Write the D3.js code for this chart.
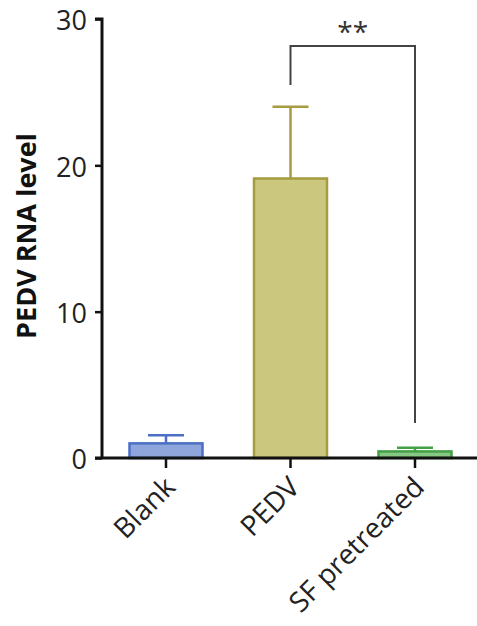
<!DOCTYPE html>
<html>
<head>
<meta charset="utf-8">
<script src="https://cdn.jsdelivr.net/npm/d3@7"></script>
<style>
  body { margin: 0; background: #fff; }
  svg { display: block; }
</style>
</head>
<body>
<svg id="chart" width="477" height="626"></svg>
<script>
// chart data
const groups = ["Blank", "PEDV", "SF pretreated"];
const means = [1.0, 19.1, 0.45];
const errors = [0.55, 4.9, 0.25];
const fills = ["#8fa6dc", "#cbc77e", "#86c883"];
const strokes = ["#4b6fc4", "#a59c40", "#42a046"];
const yTicks = [0, 10, 20, 30];
const sigLabel = "**";

const svg = d3.select("#chart");
const margin = { top: 19, left: 102 };
const font = "'Open Sans', sans-serif";

const x = d3.scalePoint().domain(groups).range([166, 415]);
const y = d3.scaleLinear().domain([0, 30]).range([458, margin.top]);
const barW = 73;

// bars
svg.selectAll(".bar")
  .data(groups)
  .enter()
  .append("rect")
  .attr("x", d => x(d) - barW / 2)
  .attr("y", (d, i) => y(means[i]))
  .attr("width", barW)
  .attr("height", (d, i) => y(0) - y(means[i]))
  .attr("fill", (d, i) => fills[i])
  .attr("stroke", (d, i) => strokes[i])
  .attr("stroke-width", 2.5);

// error bars (up only)
const capW = 36;
groups.forEach((g, i) => {
  svg.append("line")
    .attr("x1", x(g)).attr("x2", x(g))
    .attr("y1", y(means[i])).attr("y2", y(means[i] + errors[i]))
    .attr("stroke", strokes[i]).attr("stroke-width", 2.5);
  svg.append("line")
    .attr("x1", x(g) - capW / 2).attr("x2", x(g) + capW / 2)
    .attr("y1", y(means[i] + errors[i])).attr("y2", y(means[i] + errors[i]))
    .attr("stroke", strokes[i]).attr("stroke-width", 2.5);
});

// y axis
const yAxis = svg.append("g")
  .attr("transform", `translate(${margin.left},0)`)
  .call(d3.axisLeft(y).tickValues(yTicks).tickSize(7).tickPadding(8));
yAxis.select(".domain").attr("stroke", "#111").attr("stroke-width", 3)
  .attr("d", `M-7,${y(30)}H0V${y(0)}`);
yAxis.selectAll(".tick line").attr("stroke", "#111").attr("stroke-width", 2.5);
yAxis.selectAll(".tick text")
  .attr("fill", "#222")
  .attr("dy", "0.4em")
  .style("font-family", font)
  .style("font-size", "27px");

// x axis line
svg.append("line")
  .attr("x1", margin.left - 7).attr("x2", 477)
  .attr("y1", y(0)).attr("y2", y(0))
  .attr("stroke", "#111").attr("stroke-width", 3);

const xAxis = svg.append("g").attr("transform", `translate(0,${y(0)})`);
xAxis.selectAll("line")
  .data(groups)
  .enter()
  .append("line")
  .attr("x1", d => x(d)).attr("x2", d => x(d))
  .attr("y1", 0).attr("y2", 10)
  .attr("stroke", "#111").attr("stroke-width", 2.5);
xAxis.selectAll("text")
  .data(groups)
  .enter()
  .append("text")
  .attr("transform", d => `translate(${x(d) - 3},${17}) rotate(-45)`)
  .attr("text-anchor", "end")
  .attr("dy", "0.7em")
  .attr("fill", "#222")
  .style("font-family", font)
  .style("font-size", "28px")
  .text(d => d);

// y label
svg.append("text")
  .attr("transform", `translate(36,${236}) rotate(-90)`)
  .attr("text-anchor", "middle")
  .attr("fill", "#111")
  .style("font-family", font)
  .style("font-weight", "bold")
  .style("font-size", "27px")
  .text("PEDV RNA level");

// significance bracket
const bTop = 46;
const x1 = x("PEDV"), x2 = x("SF pretreated");
svg.append("path")
  .attr("d", `M${x1},${85}V${bTop}H${x2}V${423}`)
  .attr("fill", "none")
  .attr("stroke", "#444")
  .attr("stroke-width", 2);
svg.append("text")
  .attr("x", (x1 + x2) / 2)
  .attr("y", 42)
  .attr("text-anchor", "middle")
  .attr("fill", "#333")
  .style("font-family", font)
  .style("font-size", "28px")
  .text(sigLabel);
</script>
</body>
</html>
